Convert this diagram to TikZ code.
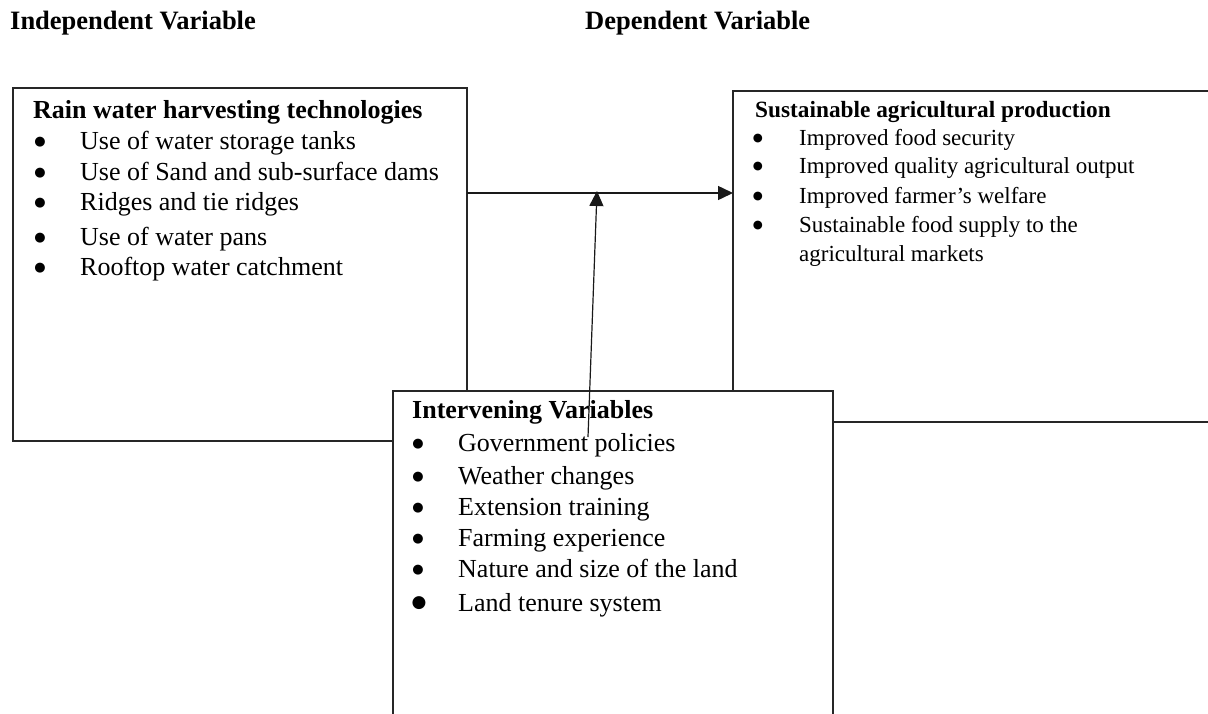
\documentclass[tikz,border=0pt]{standalone}
\usepackage{fontspec}
\setmainfont{Liberation Serif}
\newfontfamily\dotfont{DejaVu Sans}
\usetikzlibrary{arrows.meta}
\begin{document}
\begin{tikzpicture}[x=1pt,y=-1pt,
  boxshape/.style={draw=black!85, line width=1.8pt, inner sep=0pt, outer sep=0pt, anchor=north west},
  hdr/.style={font=\bfseries\fontsize{26.5}{30}\selectfont, anchor=base west, inner sep=0pt},
  ttlA/.style={font=\bfseries\fontsize{26}{30}\selectfont, anchor=mid west, inner sep=0pt},
  itmA/.style={font=\fontsize{26}{30}\selectfont, anchor=mid west, inner sep=0pt},
  bulA/.style={font=\dotfont\fontsize{13}{14}\selectfont, anchor=center, inner sep=0pt, yshift=4.6pt},
  ttlB/.style={font=\bfseries\fontsize{23.3}{28}\selectfont, anchor=mid west, inner sep=0pt},
  itmB/.style={font=\fontsize{23}{28}\selectfont, anchor=mid west, inner sep=0pt},
  bulB/.style={font=\dotfont\fontsize{11.5}{13}\selectfont, anchor=center, inner sep=0pt, yshift=4pt},
  arrowline/.style={draw=black!90, line width=1.5pt, -{Triangle[length=15pt,width=14pt]}}
]
\useasboundingbox (0,0) rectangle (1208,713);
\clip (0,0) rectangle (1208,713);

% headers
\node[hdr] (hind) at (10,29) {Independent Variable};
\node[hdr] (hdep) at (585,29) {Dependent Variable};

% boxes
\node[boxshape, minimum width=454pt, minimum height=353pt] (box1) at (13,88) {};
\node[boxshape, minimum width=600pt, minimum height=331pt] (box2) at (733,91) {};

% horizontal arrow
\coordinate (hy) at (0,193);
\draw[arrowline] (box1.east |- hy) -- (box2.west |- hy);

% intervening box on top
\node[boxshape, fill=white, minimum width=440pt, minimum height=400pt] (box3) at (393,391) {};

% box 1 text
\node[ttlA] (t1) at (33,116) {Rain water harvesting technologies};
\foreach \yy/\lbl [count=\i] in {147/Use of water storage tanks,
    178/Use of Sand and sub-surface dams,
    208/Ridges and tie ridges,
    243/Use of water pans,
    273/Rooftop water catchment}{
  \node[bulA] (ab\i) at (40,\yy) {●};
  \node[itmA] (ai\i) at (80,\yy) {\lbl};
}

% box 2 text
\node[ttlB] (t2) at (755,115) {Sustainable agricultural production};
\foreach \yy/\lbl [count=\i] in {143/Improved food security,
    171/Improved quality agricultural output,
    201/Improved farmer's welfare,
    230/Sustainable food supply to the}{
  \node[bulB] (bb\i) at (758,\yy) {●};
  \node[itmB] (bi\i) at (799,\yy) {\lbl};
}
\node[itmB] (bi5) at (799,259) {agricultural markets};

% box 3 text
\node[ttlA] (t3) at (412,416) {Intervening Variables};
\foreach \yy/\lbl [count=\i] in {449/Government policies,
    482/Weather changes,
    513/Extension training,
    544/Farming experience,
    575/Nature and size of the land}{
  \node[bulA] (cb\i) at (418,\yy) {●};
  \node[itmA] (ci\i) at (458,\yy) {\lbl};
}
\node[bulA, font=\dotfont\fontsize{17}{18}\selectfont, yshift=1.4pt] (cb6) at (419,609) {●};
\node[itmA] (ci6) at (458,609) {Land tenure system};

% vertical arrow
\coordinate (vstart) at (588,437);
\coordinate (vend) at (597,191);
\draw[arrowline, line width=1.2pt] (vstart) -- (vend);
\end{tikzpicture}
\end{document}
